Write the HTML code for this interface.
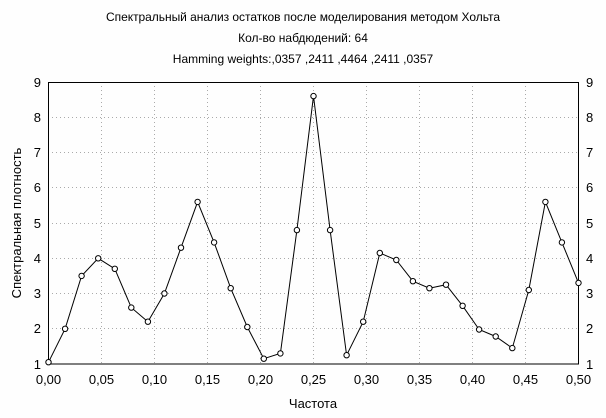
<!DOCTYPE html>
<html><head><meta charset="utf-8"><style>
html,body{margin:0;padding:0;background:#fefefe;}
svg{display:block;font-family:"Liberation Sans",Arial,sans-serif;}
</style></head><body>
<svg width="606" height="418" viewBox="0 0 606 418" xmlns="http://www.w3.org/2000/svg">
<rect width="606" height="418" fill="#fefefe"/>
<g font-size="12" fill="#000" text-anchor="middle">
<text x="303" y="21" textLength="394">Спектральный анализ остатков после моделирования методом Хольта</text>
<text x="303" y="42">Кол-во набдюдений: 64</text>
<text x="303" y="63">Hamming weights:,0357 ,2411 ,4464 ,2411 ,0357</text>
</g>
<g stroke="#aaa" stroke-width="1" stroke-dasharray="1,3">
<line x1="101.5" y1="82" x2="101.5" y2="364"/><line x1="154.5" y1="82" x2="154.5" y2="364"/>
<line x1="207.5" y1="82" x2="207.5" y2="364"/><line x1="260.5" y1="82" x2="260.5" y2="364"/>
<line x1="313.5" y1="82" x2="313.5" y2="364"/><line x1="366.5" y1="82" x2="366.5" y2="364"/>
<line x1="419.5" y1="82" x2="419.5" y2="364"/><line x1="472.5" y1="82" x2="472.5" y2="364"/>
<line x1="525.5" y1="82" x2="525.5" y2="364"/>
<line x1="48" y1="117.5" x2="578" y2="117.5"/><line x1="48" y1="152.5" x2="578" y2="152.5"/>
<line x1="48" y1="187.5" x2="578" y2="187.5"/><line x1="48" y1="223.5" x2="578" y2="223.5"/>
<line x1="48" y1="258.5" x2="578" y2="258.5"/><line x1="48" y1="293.5" x2="578" y2="293.5"/>
<line x1="48" y1="328.5" x2="578" y2="328.5"/>
</g>
<rect x="48.5" y="82.5" width="530" height="281.5" fill="none" stroke="#000" stroke-width="1"/>
<g font-size="13" text-anchor="end">
<text x="41" y="87">9</text><text x="41" y="122">8</text><text x="41" y="157">7</text>
<text x="41" y="192">6</text><text x="41" y="228">5</text><text x="41" y="263">4</text>
<text x="41" y="298">3</text><text x="41" y="333">2</text><text x="41" y="369">1</text>
</g>
<g font-size="13" text-anchor="start">
<text x="586" y="87">9</text><text x="586" y="122">8</text><text x="586" y="157">7</text>
<text x="586" y="192">6</text><text x="586" y="228">5</text><text x="586" y="263">4</text>
<text x="586" y="298">3</text><text x="586" y="333">2</text><text x="586" y="369">1</text>
</g>
<g font-size="13" text-anchor="middle">
<text x="48.5" y="384">0,00</text><text x="101.5" y="384">0,05</text><text x="154.5" y="384">0,10</text>
<text x="207.5" y="384">0,15</text><text x="260.5" y="384">0,20</text><text x="313.5" y="384">0,25</text>
<text x="366.5" y="384">0,30</text><text x="419.5" y="384">0,35</text><text x="472.5" y="384">0,40</text>
<text x="525.5" y="384">0,45</text><text x="578.5" y="384">0,50</text>
</g>
<text x="313" y="408" font-size="13" text-anchor="middle">Частота</text>
<text transform="translate(21,223) rotate(-90)" font-size="13" text-anchor="middle">Спектральная плотность</text>
<polyline fill="none" stroke="#000" stroke-width="1" points="48.5,362.2 65.1,328.8 81.6,275.9 98.2,258.3 114.8,268.8 131.3,307.6 147.9,321.7 164.4,293.5 181,247.7 197.6,201.9 214.1,242.4 230.7,288.2 247.3,327 263.8,358.7 280.4,353.4 296.9,230.1 313.5,96.1 330.1,230.1 346.6,355.2 363.2,321.7 379.8,253 396.3,260 412.9,281.2 429.4,288.2 446,284.7 462.6,305.8 479.1,329.5 495.7,336.5 512.3,348.1 528.8,290 545.4,201.9 561.9,242.4 578.5,282.9"/>
<g fill="#fff" stroke="#000" stroke-width="1">
<circle cx="48.5" cy="362.2" r="2.7"/><circle cx="65.1" cy="328.8" r="2.7"/><circle cx="81.6" cy="275.9" r="2.7"/>
<circle cx="98.2" cy="258.3" r="2.7"/><circle cx="114.8" cy="268.8" r="2.7"/><circle cx="131.3" cy="307.6" r="2.7"/>
<circle cx="147.9" cy="321.7" r="2.7"/><circle cx="164.4" cy="293.5" r="2.7"/><circle cx="181" cy="247.7" r="2.7"/>
<circle cx="197.6" cy="201.9" r="2.7"/><circle cx="214.1" cy="242.4" r="2.7"/><circle cx="230.7" cy="288.2" r="2.7"/>
<circle cx="247.3" cy="327" r="2.7"/><circle cx="263.8" cy="358.7" r="2.7"/><circle cx="280.4" cy="353.4" r="2.7"/>
<circle cx="296.9" cy="230.1" r="2.7"/><circle cx="313.5" cy="96.1" r="2.7"/><circle cx="330.1" cy="230.1" r="2.7"/>
<circle cx="346.6" cy="355.2" r="2.7"/><circle cx="363.2" cy="321.7" r="2.7"/><circle cx="379.8" cy="253" r="2.7"/>
<circle cx="396.3" cy="260" r="2.7"/><circle cx="412.9" cy="281.2" r="2.7"/><circle cx="429.4" cy="288.2" r="2.7"/>
<circle cx="446" cy="284.7" r="2.7"/><circle cx="462.6" cy="305.8" r="2.7"/><circle cx="479.1" cy="329.5" r="2.7"/>
<circle cx="495.7" cy="336.5" r="2.7"/><circle cx="512.3" cy="348.1" r="2.7"/><circle cx="528.8" cy="290" r="2.7"/>
<circle cx="545.4" cy="201.9" r="2.7"/><circle cx="561.9" cy="242.4" r="2.7"/><circle cx="578.5" cy="282.9" r="2.7"/>
</g>
</svg>
</body></html>
